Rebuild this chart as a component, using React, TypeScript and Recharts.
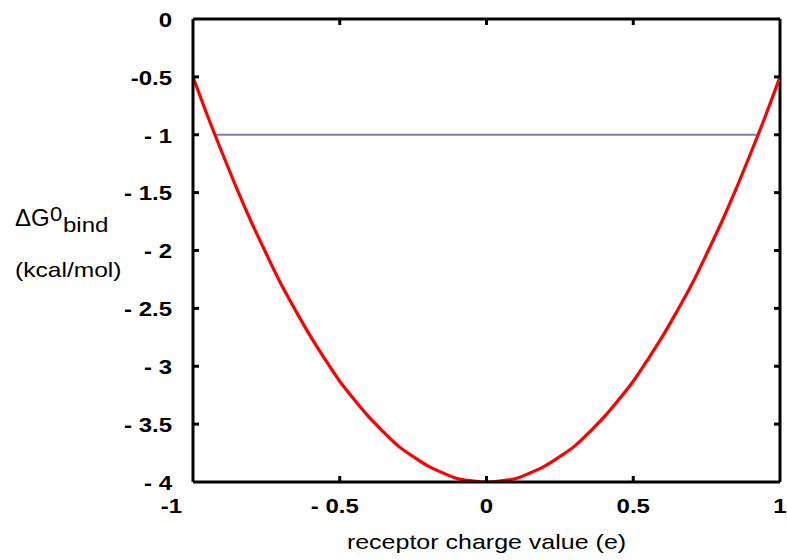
import React from 'react';
import { LineChart, Line, XAxis, YAxis, ReferenceLine } from 'recharts';

const chargeValues = [
  -1, -0.95, -0.9, -0.85, -0.8, -0.75, -0.7, -0.65, -0.6, -0.55, -0.5, -0.45, -0.4, -0.35, -0.3, -0.25, -0.2, -0.15, -0.1, -0.05,
  0, 0.05, 0.1, 0.15, 0.2, 0.25, 0.3, 0.35, 0.4, 0.45, 0.5, 0.55, 0.6, 0.65, 0.7, 0.75, 0.8, 0.85, 0.9, 0.95, 1,
];
const bindEnergy = [
  -0.5, -0.84, -1.16, -1.47, -1.76, -2.03, -2.29, -2.52, -2.74, -2.94, -3.13, -3.29, -3.44, -3.57, -3.69, -3.78, -3.86, -3.92, -3.97, -3.99,
  -4, -3.99, -3.97, -3.92, -3.86, -3.78, -3.69, -3.57, -3.44, -3.29, -3.13, -2.94, -2.74, -2.52, -2.29, -2.03, -1.76, -1.47, -1.16, -0.84, -0.5,
];

const thresholdX = [-0.92, 0.92];
const thresholdY = [-1, -1];

const xTicks = [-1, -0.5, 0, 0.5, 1];
const xTickLabels = ['-1', '- 0.5', '0', '0.5', '1'];
const yTicks = [0, -0.5, -1, -1.5, -2, -2.5, -3, -3.5, -4];
const yTickLabels = ['0', '-0.5', '- 1', '- 1.5', '- 2', '- 2.5', '- 3', '- 3.5', '- 4'];

const curve = chargeValues.map((x, i) => ({ x, y: bindEnergy[i] }));
const threshold = thresholdX.map((x, i) => ({ x, y: thresholdY[i] }));

const font = '"Liberation Sans", Arial, sans-serif';
const OFF = 8; // tickSize + tickMargin
const TICK = 6;

const TickText = ({ x, y, anchor, children }: any) => (
  <text transform={`translate(${x},${y}) scale(1.2,1)`} x={0} y={0} textAnchor={anchor}
    dominantBaseline="central" fontFamily={font} fontWeight="bold" fontSize={20} fill="#000">
    {children}
  </text>
);

const LeftTick = ({ x, y, payload, index }: any) => {
  const ax = x + OFF;
  return (
    <g>
      {index > 0 && index < yTicks.length - 1 && (
        <line x1={ax} x2={ax + TICK} y1={y} y2={y} stroke="#000" strokeWidth={3} />
      )}
      <TickText x={ax - 21} y={y + 1} anchor="end">{yTickLabels[index] ?? payload.value}</TickText>
    </g>
  );
};

const RightTick = ({ x, y, index }: any) => {
  const ax = x - OFF;
  if (index === 0 || index === yTicks.length - 1) return <g />;
  return <line x1={ax} x2={ax - TICK} y1={y} y2={y} stroke="#000" strokeWidth={3} />;
};

const BottomTick = ({ x, y, payload, index }: any) => {
  const ay = y - OFF;
  const label = xTickLabels[index] ?? String(payload.value);
  let tx = x;
  let anchor = 'middle';
  if (index === 0) { tx = x - 11; anchor = 'end'; }
  else if (payload.value < 0) { tx = x + 19; anchor = 'end'; }
  return (
    <g>
      {index > 0 && index < xTicks.length - 1 && (
        <line x1={x} x2={x} y1={ay} y2={ay - TICK} stroke="#000" strokeWidth={3} />
      )}
      <TickText x={tx} y={ay + 24} anchor={anchor}>{label}</TickText>
    </g>
  );
};

const TopTick = ({ x, y, index }: any) => {
  const ay = y + OFF;
  if (index === 0 || index === xTicks.length - 1) return <g />;
  return <line x1={x} x2={x} y1={ay} y2={ay + TICK} stroke="#000" strokeWidth={3} />;
};

const axisLine = { stroke: '#000', strokeWidth: 3 };

export default function App() {
  return (
    <div style={{ position: 'absolute', left: 0, top: 0, width: 787, height: 560, background: '#fff', fontFamily: font }}>
      <LineChart width={787} height={560} margin={{ top: 18, right: 6, left: 0, bottom: 0 }}>
        <XAxis dataKey="x" type="number" domain={[-1, 1]} ticks={xTicks} allowDataOverflow
          height={78} axisLine={axisLine} tickLine={false} tickSize={6} tickMargin={2}
          tick={<BottomTick />} interval={0} />
        <XAxis xAxisId="top" orientation="top" dataKey="x" type="number" domain={[-1, 1]} ticks={xTicks}
          allowDataOverflow height={1} axisLine={false} tickLine={false} tickSize={6} tickMargin={2}
          tick={<TopTick />} interval={0} />
        <YAxis type="number" domain={[-4, 0]} ticks={yTicks} allowDataOverflow width={193}
          axisLine={axisLine} tickLine={false} tickSize={6} tickMargin={2} tick={<LeftTick />} interval={0} />
        <YAxis yAxisId="right" orientation="right" type="number" domain={[-4, 0]} ticks={yTicks}
          allowDataOverflow width={1} axisLine={false} tickLine={false} tickSize={6} tickMargin={2}
          tick={<RightTick />} interval={0} />
        <ReferenceLine y={0} stroke="#000" strokeWidth={3} />
        <ReferenceLine x={1} stroke="#000" strokeWidth={3} />
        <Line data={threshold} dataKey="y" type="linear" stroke="#7b7bbf" strokeWidth={2}
          dot={false} isAnimationActive={false} />
        <Line data={curve} dataKey="y" type="natural" stroke="#ff0000" strokeWidth={3.2}
          dot={false} isAnimationActive={false} />
      </LineChart>
      <div style={{ position: 'absolute', left: 15, top: 204, fontSize: 24, color: '#000', lineHeight: 1, whiteSpace: 'nowrap' }}>
        ΔG<sup style={{ fontSize: 20, verticalAlign: 5, display: 'inline-block', transform: 'scaleX(1.1)', transformOrigin: 'left' }}>0</sup>
        <sub style={{ fontSize: 20, verticalAlign: -6, display: 'inline-block', marginLeft: 2, transform: 'scaleX(1.2)', transformOrigin: 'left' }}>bind</sub>
      </div>
      <div style={{ position: 'absolute', left: 15, top: 259, fontSize: 21, color: '#000', lineHeight: 1, whiteSpace: 'nowrap', transform: 'scaleX(1.17)', transformOrigin: 'left' }}>
        (kcal/mol)
      </div>
      <div style={{ position: 'absolute', left: 193, width: 587, top: 531, textAlign: 'center', fontSize: 21, color: '#000', lineHeight: 1, whiteSpace: 'nowrap', transform: 'scaleX(1.19)', transformOrigin: 'center' }}>
        receptor charge value (e)
      </div>
    </div>
  );
}
